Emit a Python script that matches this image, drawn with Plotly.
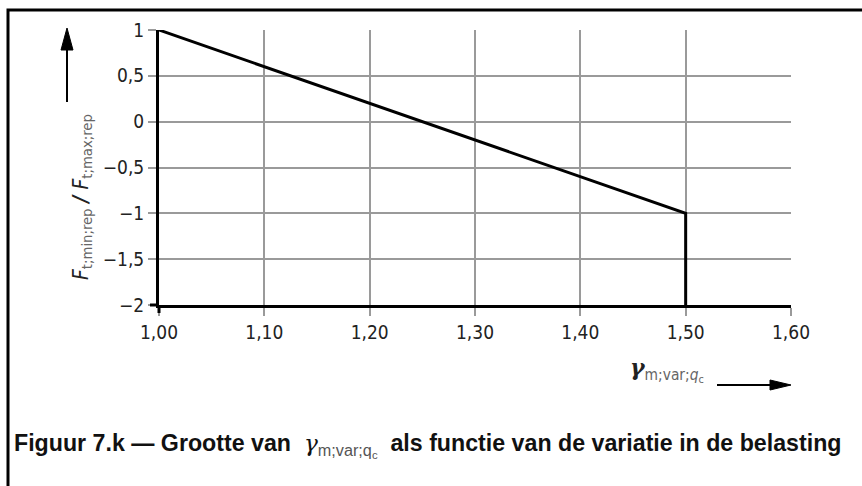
import plotly.graph_objects as go

# data
gamma = [1.00, 1.50, 1.50]
ratio = [1.0, -1.0, -2.0]

x_ticks = [1.00, 1.10, 1.20, 1.30, 1.40, 1.50, 1.60]
x_ticktext = ["1,00", "1,10", "1,20", "1,30", "1,40", "1,50", "1,60"]
y_ticks = [1, 0.5, 0, -0.5, -1, -1.5, -2]
y_ticktext = ["1", "0,5", "0", "\u22120,5", "\u22121", "\u22121,5", "\u22122"]

W, H = 862, 486
L, R, T, B = 159, 791, 30, 305   # plot area in pixels


def px(x):
    return (x - L) / (R - L)


def py(y):
    return (B - y) / (B - T)


FONT = "DejaVu Sans Condensed, Arial Narrow, sans-serif"
GRID = "#9a9a9a"

fig = go.Figure()
fig.add_trace(go.Scatter(x=gamma, y=ratio, mode="lines",
                         line=dict(color="black", width=3),
                         cliponaxis=False, hoverinfo="skip", showlegend=False))

fig.update_xaxes(range=[x_ticks[0], x_ticks[-1]], tickvals=x_ticks, ticktext=x_ticktext,
                 showgrid=True, gridcolor=GRID, gridwidth=1.5,
                 ticks="outside", ticklen=8, tickcolor=GRID, tickwidth=1.5,
                 showline=True, linecolor="black", linewidth=3,
                 zeroline=False, tickfont=dict(family=FONT, size=19, color="#222"))
fig.update_yaxes(range=[y_ticks[-1], y_ticks[0]], tickvals=y_ticks, ticktext=y_ticktext,
                 showgrid=True, gridcolor=GRID, gridwidth=1.5,
                 ticks="outside", ticklen=8, tickcolor=GRID, tickwidth=1.5,
                 showline=True, linecolor="black", linewidth=3,
                 zeroline=False, tickfont=dict(family=FONT, size=19, color="#222"))

shapes = [
    # outer frame
    dict(type="rect", xref="paper", yref="paper", x0=px(8), x1=px(880), y0=py(10), y1=py(500),
         line=dict(color="black", width=3)),
    # axis extensions past the corner
    dict(type="line", xref="paper", yref="paper", x0=px(150), x1=px(L), y0=0, y1=0,
         line=dict(color="black", width=3)),
    dict(type="line", xref="paper", yref="paper", x0=0, x1=0, y0=py(313), y1=0,
         line=dict(color="black", width=3)),
    # y arrow
    dict(type="line", xref="paper", yref="paper", x0=px(67), x1=px(67), y0=py(102), y1=py(48),
         line=dict(color="black", width=2)),
    dict(type="path", xref="paper", yref="paper",
         path=f"M {px(61)},{py(50)} L {px(73)},{py(50)} L {px(67)},{py(28)} Z",
         fillcolor="black", line=dict(color="black", width=1)),
    # x arrow
    dict(type="line", xref="paper", yref="paper", x0=px(717), x1=px(772), y0=py(385), y1=py(385),
         line=dict(color="black", width=2)),
    dict(type="path", xref="paper", yref="paper",
         path=f"M {px(770)},{py(380)} L {px(770)},{py(390)} L {px(791)},{py(385)} Z",
         fillcolor="black", line=dict(color="black", width=1)),
]

annotations = [
    dict(x=px(67), y=py(197), xref="paper", yref="paper", textangle=-90, showarrow=False,
         text="<i>F</i><span style='color:#666'><sub>t;min;rep</sub></span>"
              " <b><i>/</i></b> <i>F</i><span style='color:#666'><sub>t;max;rep</sub></span>",
         font=dict(family=FONT, size=21, color="#222")),
    dict(x=px(628), y=py(388), xref="paper", yref="paper", xanchor="left", showarrow=False,
         text="<b><i>\u03b3</i></b><span style='color:#666;font-family:DejaVu Sans Condensed'>"
              "<sub>m;var;<i>q</i><sub>c</sub></sub></span>",
         font=dict(family="DejaVu Serif, serif", size=22, color="#222")),
    dict(x=px(12), y=py(463), xref="paper", yref="paper", xanchor="left", showarrow=False,
         text="<b>Figuur 7.k \u2014 Grootte van </b> <span style='font-family:DejaVu Serif'><i>\u03b3</i></span>"
              "<span style='color:#555'><sub>m;var;q<sub>c</sub></sub></span> "
              " <b>als functie van de variatie in de belasting</b>",
         font=dict(family="Liberation Sans, Arial, sans-serif", size=23.2, color="#111")),
]

fig.update_layout(width=W, height=H, plot_bgcolor="white", paper_bgcolor="white",
                  margin=dict(l=L, r=W - R, t=T, b=H - B),
                  shapes=shapes, annotations=annotations, showlegend=False)

fig.write_html("out.html", config={"displayModeBar": False},
               post_script="document.body.style.margin='0';")
